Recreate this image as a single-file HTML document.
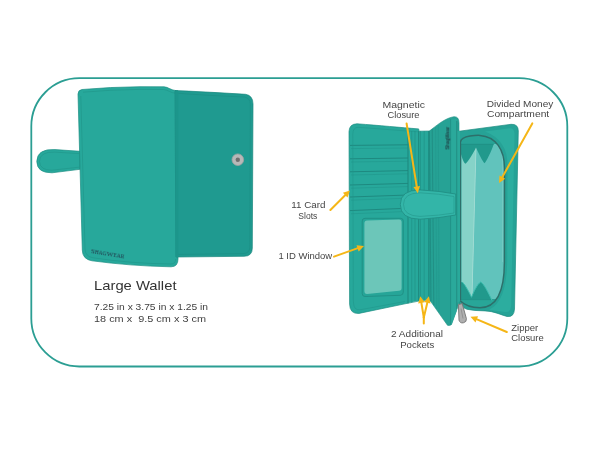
<!DOCTYPE html>
<html><head><meta charset="utf-8">
<style>
html,body{margin:0;padding:0;background:#fff;width:600px;height:450px;overflow:hidden}
svg{display:block}
text{will-change:transform}
text{font-family:"Liberation Sans",sans-serif}
</style></head>
<body>
<svg width="600" height="450" viewBox="0 0 600 450">
<rect x="0" y="0" width="600" height="450" fill="#fff"/>
<!-- frame -->
<rect x="31.3" y="78.2" width="536" height="288.3" rx="48" ry="48" fill="none" stroke="#2b9e93" stroke-width="1.8"/>

<!-- LEFT WALLET -->
<!-- strap -->
<path d="M80 151.3 L55 149.6 Q37 148.5 36.8 161.5 Q37 173 52 172.8 L80 169.3 Z" fill="#27a89b" stroke="#1d8e83" stroke-width="0.7"/>
<path d="M79 153.6 L55 152.1 Q39.6 151.3 39.5 161.5 Q39.8 170.3 52 170.2 L79 167.2" fill="none" stroke="#1e9085" stroke-width="0.5"/>
<!-- front panel -->
<path d="M82 89.5 Q110 87 140 86.7 L164 86.8 C168 86.9 171 90.3 176 90.6 L178 90.8 L178 259 Q178 266.8 171 266.8 Q130 266 92 260.8 Q82.5 259.3 82.3 250 L78 94 Q78 90 82 89.5 Z" fill="#27a89b" stroke="#1d8e83" stroke-width="0.7"/>
<path d="M83 92.2 Q110 89.7 140 89.4 L163.5 89.5 C167.5 89.6 170.5 93 176 93.3 M80.8 96 L85 249 Q85.2 256.5 93 257.8 Q130 263.5 171 264 Q175.5 264 175.7 259" fill="none" stroke="#1e9085" stroke-width="0.5"/>
<!-- flap -->
<path d="M175 90.6 Q200 91.5 245.5 94.3 Q253 95.5 253 104 L252.3 248 Q252.3 256.3 244 256.3 L176 257 Z" fill="#1f9a90" stroke="#1a877d" stroke-width="0.7"/>
<path d="M178 93.2 Q200 95.2 244.5 97 Q250.2 98.3 250.3 104 L249.8 247 Q249.8 253.6 243 253.6 L178 254.4" fill="none" stroke="#1b8a80" stroke-width="0.5"/>
<path d="M175.5 91 L178.5 91.3 L178.5 257 L175.5 257 Z" fill="#1c968b"/>
<!-- snap -->
<circle cx="237.8" cy="159.7" r="5.8" fill="#b8b8b8" stroke="#a2a2a2" stroke-width="0.8"/>
<circle cx="237.8" cy="159.7" r="2.2" fill="#6f6f6f"/>
<!-- logo -->
<text x="90.5" y="253.3" font-size="7" style="font-family:'Liberation Serif',serif" fill="#1f3446" transform="rotate(9.5 90.5 253.3)" textLength="34" lengthAdjust="spacingAndGlyphs">S<tspan font-size="5.3">HAG</tspan>W<tspan font-size="5.3">EAR</tspan></text>

<!-- left texts -->
<text x="94" y="289.8" font-size="13.2" fill="#333333" textLength="82.5" lengthAdjust="spacingAndGlyphs">Large Wallet</text>
<text x="94" y="309.9" font-size="9.5" fill="#3f3f3f" textLength="114" lengthAdjust="spacingAndGlyphs">7.25 in x 3.75 in x 1.25 in</text>
<text x="94" y="322.3" font-size="9.5" fill="#3f3f3f" textLength="112" lengthAdjust="spacingAndGlyphs">18 cm x&#160; 9.5 cm x 3 cm</text>

<!-- RIGHT WALLET -->
<!-- compartment -->
<defs><clipPath id="zc"><path d="M460.4 142 Q461.2 137.5 470 136 Q476 135.2 480 135.4 C496 136.5 504.5 150 504.5 168 L504.4 262 C504.4 290 498 307.6 480 307.8 Q467 307.5 460.4 301 Z"/></clipPath></defs>
<path d="M457 131.5 L511 124.3 Q518.3 123.8 518.3 131 L514.5 309 Q514 317.5 507 316.5 C500 314.5 494 311.2 485 310.9 Q474 310.8 467 309.3 Q461.5 307.5 459 304.5 Z" fill="#26a296" stroke="#1d8b80" stroke-width="0.7"/>
<path d="M485 131.5 L509.5 128.3 Q514.5 128 514.5 134 L511.2 305 Q510.8 312.8 505 312 L489 309.8 Q506.5 302 507.2 262 L507.5 165 Q507.5 140 485 131.5 Z" fill="#2cad9f"/>
<g clip-path="url(#zc)">
<rect x="455" y="130" width="55" height="185" fill="#27a396"/>
<path d="M461.5 144 L510 144 L510 303 L461.5 303 Z" fill="#61c3bc"/>
<path d="M502.6 150 L502.6 262" stroke="#7fcfc8" stroke-width="0.7"/>
<path d="M461.5 144 L476 144 L472 303 L461.5 303 Z" fill="#86d3c8"/>
<path d="M475.6 147.5 L476.4 147.5 L472.4 297 L471.6 297 Z" fill="#a9ded6"/>
<path d="M460 144 L493.8 144 C491.5 151 486.5 161.5 484.5 163.3 C482.5 161.5 478.5 153 476 147.5 C473.5 153 468 162 465.5 163.8 C463 162 461.5 156 460 150 Z" fill="#21998c"/>
<path d="M460 144.3 L493.6 144.3" stroke="#1e8c81" stroke-width="0.6"/>
<path d="M455 310 L455 284 C458 283 460 282.3 462.3 282 C466 286 469 292 471.5 297.3 C474 291 477.5 284 480.7 282 C484 284 488 292 492 300.5 L510 300.5 L510 310 Z" fill="#21998c"/>
<path d="M455 299.5 L510 299.5 L510 310 L455 310 Z" fill="#28a698"/>
<path d="M458 299.6 L503 299.6" stroke="#1f8f84" stroke-width="0.7"/>
<path d="M462.3 282 C466 286 469 292 471.5 297.3 C474 291 477.5 284 480.7 282 C484 284 488 292 492 300.5" fill="none" stroke="#3dbdaf" stroke-width="1"/>
</g>
<path d="M460.4 300.5 L460.4 142 Q461.2 137.5 470 136 Q476 135.2 480 135.4 C496 136.5 504.5 150 504.5 168 L504.4 262 C504.4 290 498 307.6 480 307.8 Q467 307.5 460.4 301" fill="none" stroke="#2d6f6a" stroke-width="1.5"/>

<!-- card panel + strips base -->
<path d="M357 123.8 C380 125.5 400 127.5 418.7 128.9 L419 131.2 L431 131 L433 301 Q420 299.5 405 303.8 L359 313.4 Q349.8 314.2 349.6 304 L349 131.5 Q349.3 124 357 123.8 Z" fill="#27a89b" stroke="#1d8e83" stroke-width="0.7"/>
<!-- card slot lines -->
<g stroke="#1e887e" stroke-width="0.95" fill="none">
<path d="M350 145.4 L408 144.8 M350 158.8 L408 158.0 M350 171.8 L408 170.6 M350 185.0 L408 183.4 M350 197.0 L408 195.0 M350 210.6 L408 208.2"/>
</g>
<g stroke="#1f958a" stroke-width="0.55" fill="none">
<path d="M351 148.6 L408 148.0 M351 162.0 L408 161.2 M351 175.0 L408 173.79999999999998 M351 188.2 L408 186.6 M351 200.2 L408 198.2 M351 213.79999999999998 L408 211.39999999999998"/>
<path d="M353.3 300 L353.5 303 Q353.8 310.3 360 309.8 L405 301.5"/>
<path d="M418 131.8 C400 130.6 380 128.8 358 127.3 Q353 127.5 352.8 134 L353.3 300"/>
</g>
<!-- ID window -->
<path d="M365 218.3 L400.5 218.3 Q403.3 218.3 403.3 221 L403.3 292 Q403.3 295 400.5 295.3 L365 296.5 Q362.2 296.5 362.2 293.5 L362.2 221 Q362.2 218.3 365 218.3 Z" fill="#26a598" stroke="#1e887e" stroke-width="0.7"/>
<path d="M367 220.6 L399 219.4 Q401.6 219.4 401.6 222 L401.6 288 Q401.6 290.6 399 290.8 L367 293.9 Q364.4 293.9 364.4 291 L364.4 223.5 Q364.4 220.6 367 220.6 Z" fill="#6cc6b9"/>
<!-- strips lines -->
<g stroke="#1d877d" stroke-width="1" fill="none">
<path d="M408 131 L408 303.5 M418.7 131 L418.7 300.5 M428.8 131 L428.8 300"/>
</g>
<g stroke="#1f8f85" stroke-width="0.6" fill="none">
<path d="M411.7 131 L411.7 302.5 M415 131 L415 301.5 M420.5 131 L420.5 300.5 M424.2 131 L424.2 300"/>
</g>
<!-- middle tall flap -->
<path d="M429.4 131 C436 126 445 118 453.9 116.7 Q459 116.3 459 123 L459 302 L457 309 L451.5 324.5 Q450 326 447.5 325.3 L430 300.5 Z" fill="#26a295" stroke="#1d8e83" stroke-width="0.6"/>
<path d="M429.4 131 L431 301 M432.2 129 L433.8 305" stroke="#1f8a80" stroke-width="0.8" fill="none"/>
<path d="M435.6 127 L436.8 309 M438.3 125 L439 312" stroke="#22978b" stroke-width="0.6" fill="none"/>
<path d="M450.8 119.5 L450.8 324.5 L451.5 324.5 L456.5 311.5 L456.5 119 Z" fill="#2aa99b"/>
<path d="M450.6 119 L450.6 324.5" stroke="#1f8c82" stroke-width="0.7" fill="none"/>
<path d="M456.8 121 L456.8 309" stroke="#238a80" stroke-width="0.9" fill="none"/>
<path d="M457.5 131 L460 131 L460 301 Q459 303 457.5 302.5 Z" fill="#2aa99b"/>
<text x="0" y="0" font-size="4.8" font-weight="bold" fill="#1d3a40" transform="translate(449.3 149.5) rotate(-90)" textLength="22.5" lengthAdjust="spacingAndGlyphs">ShagWear</text>
<!-- zipper pull -->
<path d="M458.4 304.6 L462.2 303.6 L466.4 318.6 A3.8 3.8 0 0 1 459 320.2 Z" fill="#afafaf" stroke="#747474" stroke-width="0.9"/>
<path d="M461 308.5 L463 318.5" stroke="#858585" stroke-width="0.7"/>
<!-- magnetic tab -->
<path d="M420 189.9 Q440 191 455.7 194 L455.7 215 Q440 218 420 219.2 Q400.3 219 400.3 204.5 Q400.3 190 420 189.9 Z" fill="#33b5a8" stroke="#1f8c82" stroke-width="0.8"/>
<path d="M420 192.8 Q440 193.8 454 196.5 L454 213 Q440 215.5 420 216.4 Q403.5 216 403.5 204.5 Q403.5 193 420 192.8 Z" fill="none" stroke="#23978b" stroke-width="0.6"/>

<!-- labels -->
<g font-size="8.8" fill="#454545" lengthAdjust="spacingAndGlyphs">
<text x="382.5" y="107.5" textLength="42.5" lengthAdjust="spacingAndGlyphs">Magnetic</text>
<text x="387.5" y="117.5" textLength="32" lengthAdjust="spacingAndGlyphs">Closure</text>
<text x="486.7" y="106.8" textLength="66.6" lengthAdjust="spacingAndGlyphs">Divided Money</text>
<text x="487" y="116.8" textLength="62.2" lengthAdjust="spacingAndGlyphs">Compartment</text>
<text x="291.3" y="207.8" textLength="34.2" lengthAdjust="spacingAndGlyphs">11 Card</text>
<text x="298.3" y="218.6" textLength="19" lengthAdjust="spacingAndGlyphs">Slots</text>
<text x="278.4" y="259.2" textLength="53.8" lengthAdjust="spacingAndGlyphs">1 ID Window</text>
<text x="391" y="336.8" textLength="52" lengthAdjust="spacingAndGlyphs">2 Additional</text>
<text x="400.2" y="347.5" textLength="34.1" lengthAdjust="spacingAndGlyphs">Pockets</text>
<text x="511.25" y="330.5" textLength="27" lengthAdjust="spacingAndGlyphs">Zipper</text>
<text x="511.25" y="341.2" textLength="32.5" lengthAdjust="spacingAndGlyphs">Closure</text>
</g>

<!-- arrows -->
<g stroke="#f5b617" stroke-width="2" fill="none" stroke-linecap="round">
<line x1="406.6" y1="123.5" x2="416.88" y2="187.57"/>
<line x1="532.3" y1="123.4" x2="501.83" y2="177.94"/>
<line x1="330.4" y1="210" x2="345.90" y2="194.50"/>
<line x1="334" y1="256.6" x2="358.53" y2="247.93"/>
<line x1="423.8" y1="317.5" x2="421.24" y2="301.92"/>
<line x1="423.8" y1="317.5" x2="427.55" y2="301.84"/>
<line x1="506.8" y1="332" x2="475.84" y2="318.95"/>
<line x1="423.8" y1="323.6" x2="423.8" y2="317"/>
</g>
<g fill="#f5b617">
<path d="M417.80 193.30 L413.46 187.11 L419.98 186.06 Z"/>
<path d="M499.00 183.00 L499.44 175.45 L505.20 178.67 Z"/>
<path d="M350.00 190.40 L347.53 197.54 L342.86 192.87 Z"/>
<path d="M364.00 246.00 L358.69 251.38 L356.49 245.15 Z"/>
<path d="M420.30 296.20 L424.66 302.37 L418.15 303.45 Z"/>
<path d="M428.90 296.20 L430.53 303.58 L424.11 302.04 Z"/>
<path d="M470.50 316.70 L478.05 316.30 L475.48 322.38 Z"/>
</g>
</svg>
</body></html>
